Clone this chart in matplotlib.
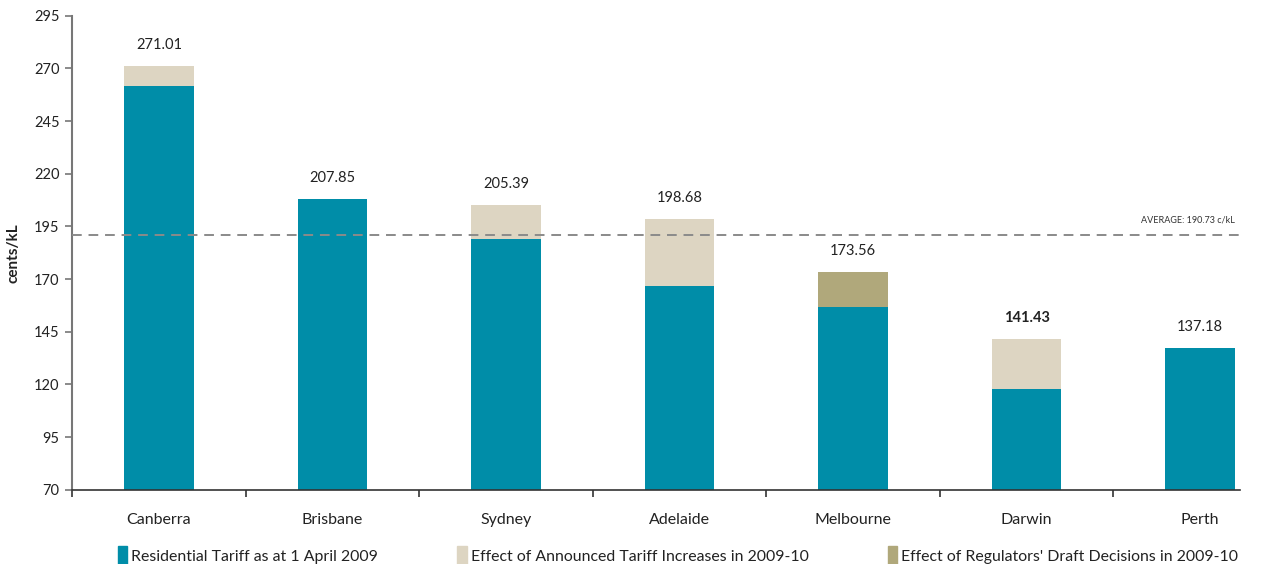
import matplotlib
matplotlib.use("Agg")
import matplotlib.pyplot as plt
import matplotlib.patches as mpatches
import numpy as np

plt.rcParams["font.family"] = ["Lato", "DejaVu Sans"]

# ---------- data (cents/kL) ----------
cities = ["Canberra", "Brisbane", "Sydney", "Adelaide", "Melbourne", "Darwin", "Perth"]
tariff_2009 = [261.8, 207.85, 188.9, 166.6, 156.7, 117.6, 137.18]
announced_increase = [9.21, 0.0, 16.49, 32.08, 0.0, 23.83, 0.0]
regulator_draft = [0.0, 0.0, 0.0, 0.0, 16.86, 0.0, 0.0]
totals = ["271.01", "207.85", "205.39", "198.68", "173.56", "141.43", "137.18"]
bold_label = [False, False, False, False, False, True, False]
average = 190.73
y_ticks = [70, 95, 120, 145, 170, 195, 220, 245, 270, 295]

TEAL = "#008da8"
BEIGE = "#ddd5c2"
OLIVE = "#b0a87b"
TEXT = "#222222"

fig = plt.figure(figsize=(12.71, 5.64), dpi=100)
ax = fig.add_axes([0.0567, 0.1317, 0.9189, 0.8404])

x = np.arange(len(cities))
base = np.array(tariff_2009)
inc = np.array(announced_increase)
reg = np.array(regulator_draft)
width = 0.40
floor = y_ticks[0]

ax.bar(x, base - floor, width, bottom=floor, color=TEAL, zorder=2)
ax.bar(x, inc, width, bottom=base, color=BEIGE, zorder=2)
ax.bar(x, reg, width, bottom=base + inc, color=OLIVE, zorder=2)

# value labels above each stack
for xi, top, lab, bold in zip(x, base + inc + reg, totals, bold_label):
    ax.annotate(lab, (xi, top), xytext=(0, 10), textcoords="offset points",
                ha="center", va="bottom", fontsize=10.5, color=TEXT,
                fontweight="bold" if bold else "normal")

# average line
ax.axhline(average, color="#8a8a8a", linewidth=1.4, dashes=(5, 3.5), zorder=3)
ax.text(6.2, average + 5, f"AVERAGE: {average:.2f} c/kL", ha="right",
        va="bottom", fontsize=6.5, color="#333333")

ax.set_xlim(-0.5, 6.23)
ax.set_ylim(70, 295)
ax.set_yticks(y_ticks)
ax.set_yticklabels([str(t) for t in y_ticks], fontsize=10.5, color=TEXT)
ax.set_ylabel("cents/kL", fontsize=11, fontweight="bold", color=TEXT, labelpad=10)

# category labels centred on bars, tick marks between categories
ax.set_xticks(np.arange(-0.5, len(cities) - 0.5, 1.0))
ax.set_xticklabels([])
ax.set_xticks(x, minor=True)
ax.set_xticklabels(cities, minor=True, fontsize=11.5, color=TEXT)
ax.tick_params(axis="x", which="minor", length=0, pad=17)
ax.tick_params(axis="x", which="major", length=5, width=1.2, color="#333333", direction="out")
ax.tick_params(axis="y", length=5, width=1.2, color="#777777", pad=4)

for side in ["top", "right"]:
    ax.spines[side].set_visible(False)
ax.spines["left"].set_color("#777777")
ax.spines["left"].set_linewidth(1.5)
ax.spines["bottom"].set_color("#333333")
ax.spines["bottom"].set_linewidth(1.2)

handles = [
    mpatches.Patch(color=TEAL, label="Residential Tariff as at 1 April 2009"),
    mpatches.Patch(color=BEIGE, label="Effect of Announced Tariff Increases in 2009-10"),
    mpatches.Patch(color=OLIVE, label="Effect of Regulators' Draft Decisions in 2009-10"),
]
fig.legend(handles=handles, loc="center left", bbox_to_anchor=(0.0928, 0.0155),
           ncol=3, frameon=False, fontsize=11.4, handlelength=0.6, handleheight=1.4,
           handletextpad=0.25, columnspacing=5.0, labelcolor=TEXT, borderaxespad=0,
           borderpad=0)

fig.savefig("out.png", dpi=100, facecolor="white")
